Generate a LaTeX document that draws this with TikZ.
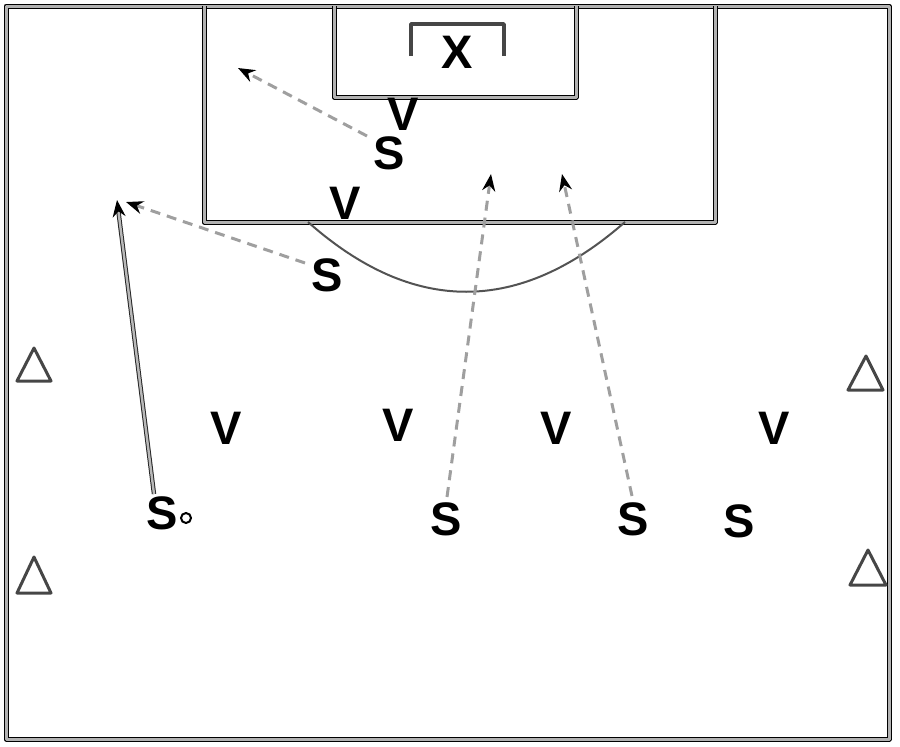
\documentclass[tikz,border=0pt]{standalone}
\usepackage{fontspec}
\setsansfont{Liberation Sans}
\usetikzlibrary{arrows.meta}
\begin{document}
\begin{tikzpicture}[x=1pt,y=-1pt,
  fieldline/.style={draw=black, double=gray!60, double distance=3pt, line width=1pt, line join=round},
  arcline/.style={draw=gray!65!black, line width=2pt},
  player/.style={font=\sffamily\bfseries\fontsize{47}{47}\selectfont, inner sep=0pt, text=black},
  runarrow/.style={draw=gray!75, line width=3pt, dash pattern=on 10pt off 7pt, -{Stealth[length=17pt,width=13pt,black]}},
  dribble/.style={draw=black!85, double=gray!55, double distance=2.4pt, line width=1pt, -{Stealth[length=17pt,width=13pt,black]}},
  cone/.style={draw=gray!55!black, line width=3pt, line join=round},
  goal/.style={draw=gray!55!black, line width=3.5pt, line join=round}]
\useasboundingbox (0,0) rectangle (900,747);
% field
\draw[fieldline] (6,6) rectangle (889,739);
% penalty box
\draw[fieldline] (204,6) -- (204,222) -- (715,222) -- (715,6);
% goal box
\draw[fieldline] (334,6) -- (334,97) -- (576,97) -- (576,6);
% penalty arc
\draw[arcline] (308,222) .. controls (413,315) and (519,315) .. (625,222);
% goal
\draw[goal] (411,56) -- (411,24) -- (504,24) -- (504,56);
% cones
\draw[cone] (34,348) -- (17,381) -- (51,381) -- cycle;
\draw[cone] (34,557) -- (17,593) -- (51,593) -- cycle;
\draw[cone] (866,356) -- (848,390) -- (883,390) -- cycle;
\draw[cone] (868,550) -- (850,585) -- (886,585) -- cycle;
% players
\node[player] (x1) at (457,52) {X};
\node[player] (v1) at (403,114) {V};
\node[player] (v2) at (345,203) {V};
\node[player] (v3) at (226,428) {V};
\node[player] (v4) at (398,425) {V};
\node[player] (v5) at (556,428) {V};
\node[player] (v6) at (774,428) {V};
\node[player] (s1) at (389,153) {S};
\node[player] (s2) at (327,275) {S};
\node[player] (s3) at (162,513) {S};
\node[player] (s4) at (446,519) {S};
\node[player] (s5) at (633,519) {S};
\node[player] (s6) at (739,521) {S};
% ball
\node[circle, draw=black, line width=2pt, minimum size=10pt, inner sep=0pt] (ball) at (186,518) {};
% arrow targets
\coordinate (t1) at (238,68);
\coordinate (t2) at (126,202);
\coordinate (t3) at (117,200);
\coordinate (t4) at (491,174);
\coordinate (t5) at (562,174);
\coordinate (a1) at (367,136);
\coordinate (a2) at (305,263);
\coordinate (a3) at (154,494);
\coordinate (a4) at (447,497);
\coordinate (a5) at (632,496);
% arrows
\draw[runarrow] (a1) -- (t1);
\draw[runarrow] (a2) -- (t2);
\draw[dribble] (a3) -- (t3);
\draw[runarrow] (a4) -- (t4);
\draw[runarrow] (a5) -- (t5);
\end{tikzpicture}
\end{document}
